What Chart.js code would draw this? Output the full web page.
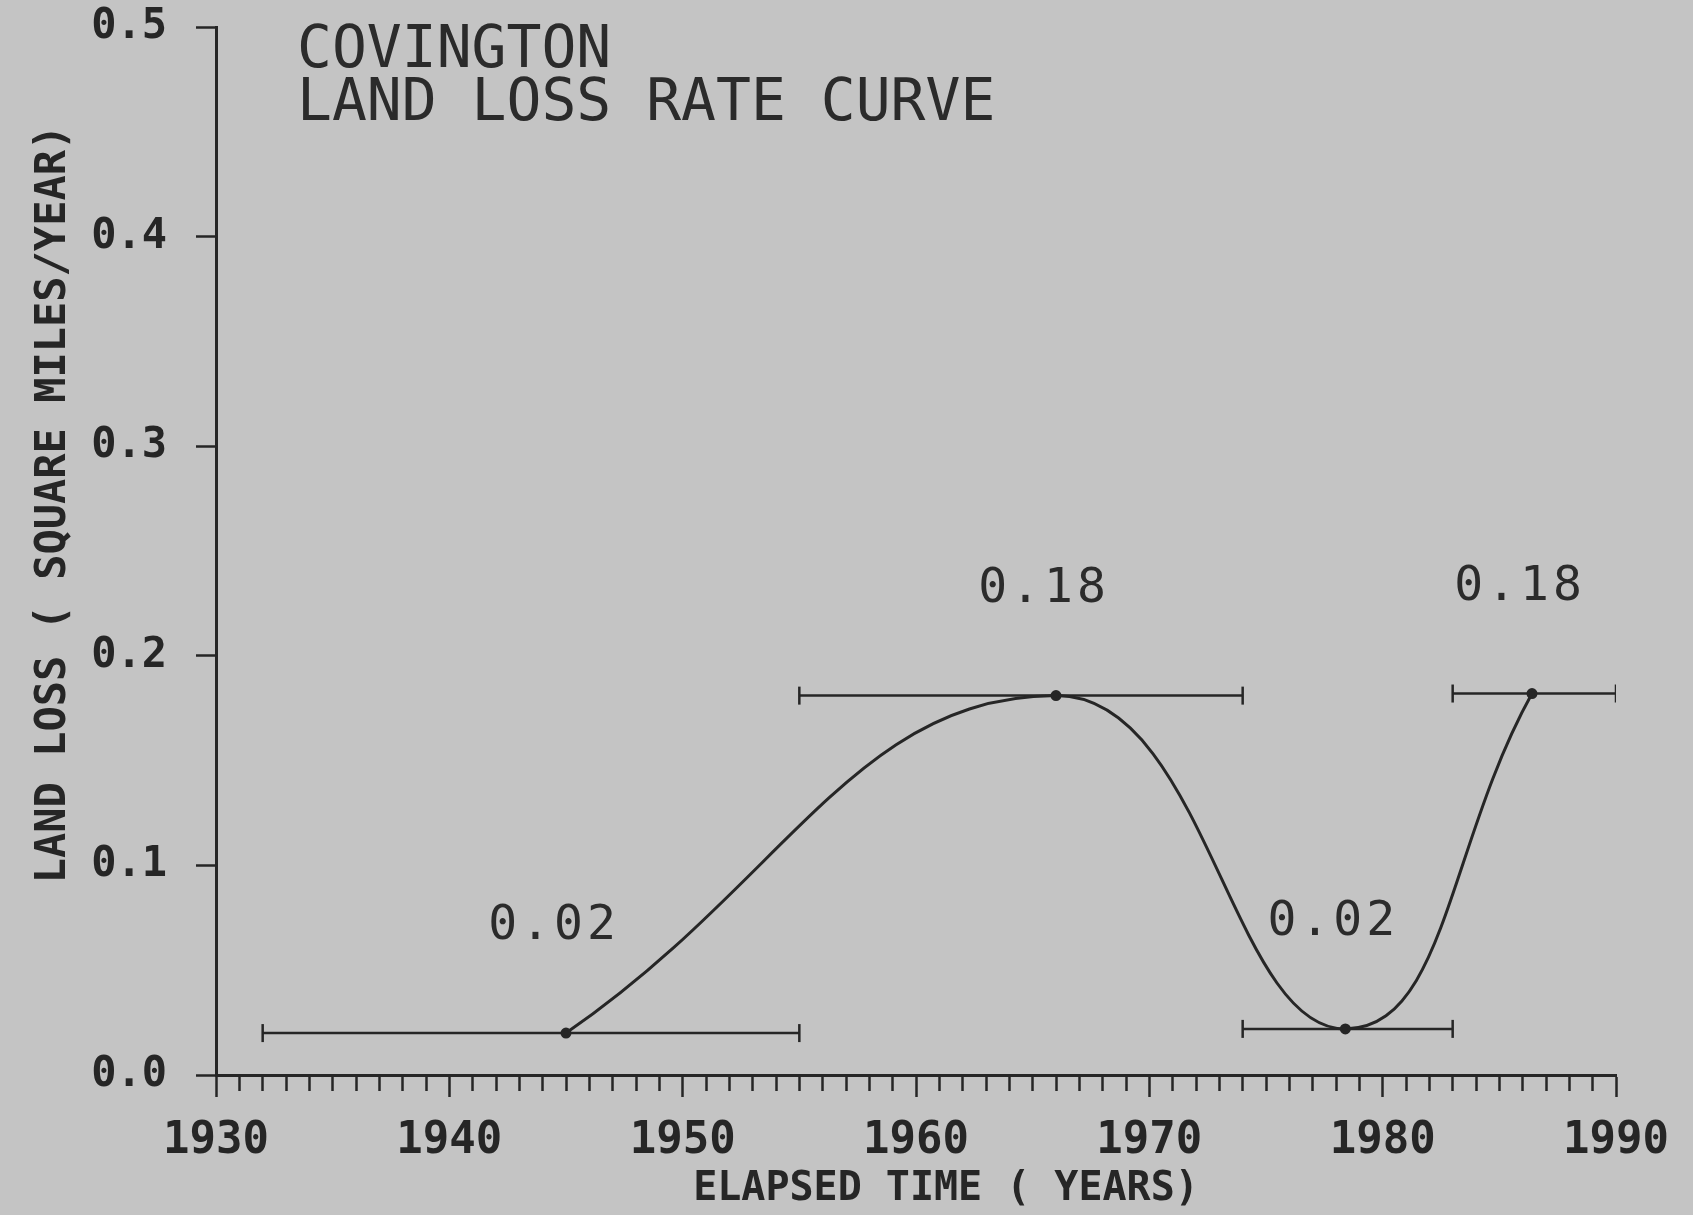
<!DOCTYPE html>
<html lang="en">
<head>
  <meta charset="UTF-8">
  <title>Covington Land Loss Rate Curve</title>
  <script src="https://cdn.jsdelivr.net/npm/chart.js"></script>
  <style>
    html, body { margin: 0; padding: 0; background: #c4c4c4; }
    .chart-container { position: relative; width: 1693px; height: 1215px; }
  </style>
</head>
<body>
  <div class="chart-container">
    <canvas id="lossChart"></canvas>
  </div>
  <script>
    // values
    const titleLines = ['COVINGTON', 'LAND LOSS RATE CURVE'];
    const xTitle = 'ELAPSED TIME ( YEARS)';
    const yTitle = 'LAND LOSS ( SQUARE MILES/YEAR)';
    const years = [1945, 1966, 1978.4, 1986.4];
    const rates = [0.02, 0.181, 0.022, 0.182];
    const periodStart = [1932, 1955, 1974, 1983];
    const periodEnd = [1955, 1974, 1983, 1990];
    const yTicks = [0, 0.1, 0.2, 0.3, 0.4, 0.5];

    const ink = '#262626';
    const mono = '"DejaVu Sans Mono", "Liberation Mono", monospace';

    const curve = {
      label: 'rate',
      data: years.map((yr, i) => ({ x: yr, y: rates[i] })),
      borderColor: ink,
      borderWidth: 3,
      tension: 0.45,
      pointRadius: 4,
      pointBackgroundColor: ink,
      pointBorderColor: ink,
      order: 0
    };

    const periods = periodStart.map((s, i) => ({
      label: 'period ' + (i + 1),
      data: [{ x: s, y: rates[i] }, { x: periodEnd[i], y: rates[i] }],
      borderColor: ink,
      borderWidth: 2.5,
      pointStyle: 'line',
      rotation: 90,
      pointRadius: 9,
      pointBorderWidth: 2.5,
      pointBorderColor: ink,
      order: 1
    }));

    // titles and value labels drawn on the canvas
    const textPlugin = {
      id: 'plotText',
      afterDatasetsDraw(chart) {
        const ctx = chart.ctx;
        const area = chart.chartArea;
        ctx.save();
        ctx.fillStyle = '#2b2b2b';
        ctx.textAlign = 'left';
        ctx.textBaseline = 'alphabetic';
        ctx.font = '58px ' + mono;
        ctx.fillText(titleLines[0], area.left + 81, 67);
        ctx.fillText(titleLines[1], area.left + 81, 120);

        ctx.fillStyle = ink;
        ctx.textAlign = 'center';
        ctx.font = 'bold 40px ' + mono;
        ctx.fillText(xTitle, area.left + 730, 1200);

        ctx.save();
        ctx.translate(65, area.top + 477);
        ctx.rotate(-Math.PI / 2);
        ctx.font = 'bold 42px ' + mono;
        ctx.fillText(yTitle, 0, 0);
        ctx.restore();

        ctx.fillStyle = '#2b2b2b';
        ctx.font = '48px ' + mono;
        ctx.letterSpacing = '4px';
        const meta = chart.getDatasetMeta(0);
        meta.data.forEach((pt, i) => {
          ctx.fillText(rates[i].toFixed(2), pt.x - 12, pt.y - 94);
        });
        ctx.restore();
      }
    };

    new Chart(document.getElementById('lossChart'), {
      type: 'line',
      data: { datasets: [curve, ...periods] },
      options: {
        responsive: true,
        maintainAspectRatio: false,
        animation: false,
        layout: { padding: { top: 27, right: 77, bottom: 0, left: 0 } },
        plugins: {
          legend: { display: false },
          tooltip: { enabled: false },
          title: { display: false }
        },
        scales: {
          x: {
            type: 'linear',
            min: 1930,
            max: 1990,
            afterFit: s => { s.height = 140; },
            border: { display: true, color: ink, width: 3 },
            grid: {
              drawOnChartArea: false,
              drawTicks: true,
              tickLength: 22,
              tickWidth: 2.5,
              tickColor: ink,
              tickBorderDash: c => (c.tick && c.tick.value % 10 === 0) ? [] : [14, 100]
            },
            ticks: {
              stepSize: 1,
              autoSkip: false,
              maxRotation: 0,
              minRotation: 0,
              padding: 18,
              color: ink,
              font: { family: mono, size: 44, weight: 'bold' },
              callback: v => (v % 10 === 0 ? String(v) : '')
            }
          },
          y: {
            min: 0,
            max: 0.5,
            afterFit: s => { s.width = 216; s.paddingTop = 0; s.paddingBottom = 0; },
            afterBuildTicks: s => { s.ticks = yTicks.map(v => ({ value: v })); },
            border: { display: true, color: ink, width: 3 },
            grid: {
              drawOnChartArea: false,
              drawTicks: true,
              tickLength: 20,
              tickWidth: 2.5,
              tickColor: ink
            },
            ticks: {
              padding: 29,
              color: ink,
              font: { family: mono, size: 42, weight: 'bold' },
              callback: v => Number(v).toFixed(1)
            }
          }
        }
      },
      plugins: [textPlugin]
    });
  </script>
</body>
</html>
